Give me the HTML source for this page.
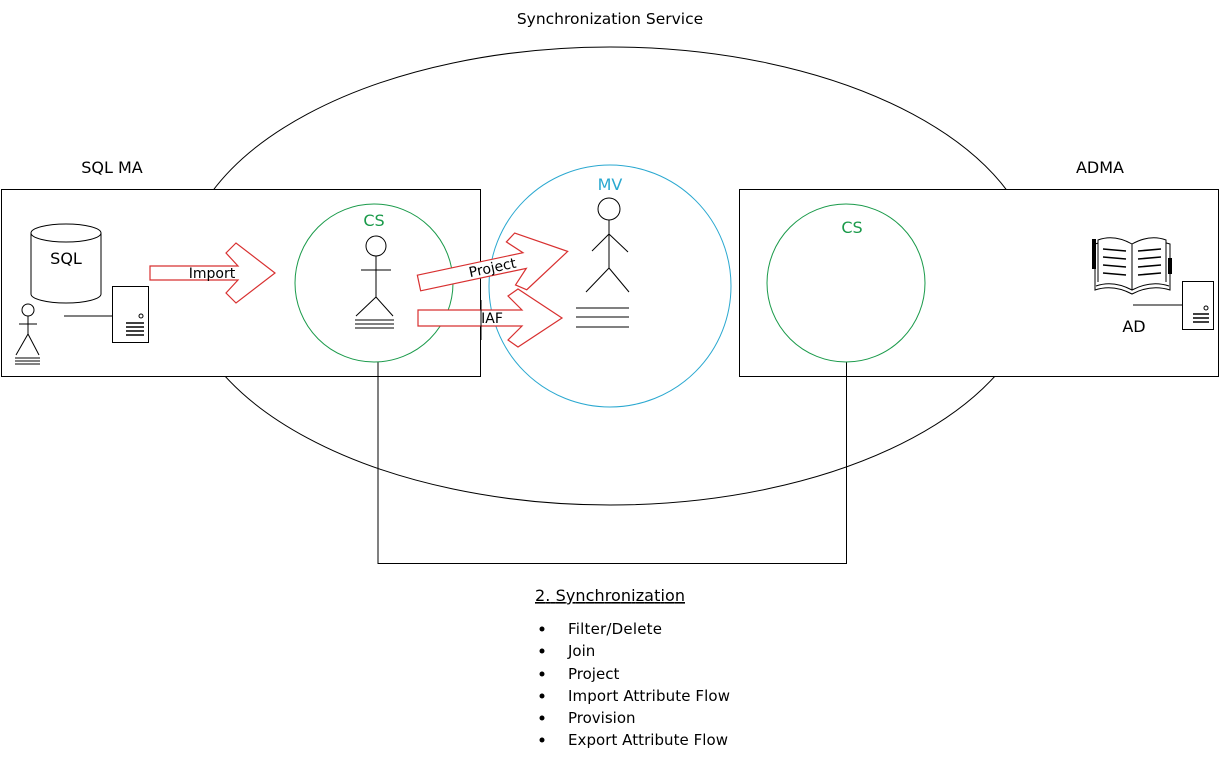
<!DOCTYPE html>
<html><head><style>body{margin:0;background:#fff}svg{display:block}text{font-family:"DejaVu Sans","Liberation Sans",sans-serif}</style></head><body>
<svg width="1220" height="761" viewBox="0 0 1220 761" xmlns="http://www.w3.org/2000/svg">
<rect width="1220" height="761" fill="#fff"/>
<text x="610" y="24" font-size="15.5" text-anchor="middle">Synchronization Service</text>
<ellipse cx="610" cy="276" rx="428" ry="229" fill="none" stroke="#000" stroke-width="1"/>
<rect x="1.5" y="189.5" width="479" height="187" fill="#fff" stroke="#000"/>
<rect x="739.5" y="189.5" width="479" height="187" fill="#fff" stroke="#000"/>
<text x="112" y="173" font-size="16" text-anchor="middle">SQL MA</text>
<text x="1100" y="173" font-size="16" text-anchor="middle">ADMA</text>
<polyline points="378,362 378,563.5 846.5,563.5 846.5,362" fill="none" stroke="#000"/>
<circle cx="610" cy="286" r="121" fill="#fff" stroke="#2aa8d0"/>
<text x="610" y="190" font-size="16" fill="#2aa8d0" text-anchor="middle">MV</text>
<circle cx="374" cy="283" r="79" fill="none" stroke="#1a9a4a"/>
<circle cx="846" cy="283" r="79" fill="none" stroke="#1a9a4a"/>
<text x="374" y="226" font-size="16" fill="#1a9a4a" text-anchor="middle">CS</text>
<text x="852" y="233" font-size="16" fill="#1a9a4a" text-anchor="middle">CS</text>
<path d="M31,233 L31,294 A35,9 0 0 0 101,294 L101,233" fill="#fff" stroke="#000"/>
<ellipse cx="66" cy="233" rx="35" ry="9" fill="#fff" stroke="#000"/>
<text x="66" y="264" font-size="16" text-anchor="middle">SQL</text>
<line x1="64" y1="316" x2="112" y2="316" stroke="#000"/>
<rect x="112.5" y="286.5" width="36" height="56" fill="#fff" stroke="#000"/>
<circle cx="141" cy="316" r="2" fill="none" stroke="#000"/>
<g stroke="#000" stroke-width="1.5"><line x1="126" y1="323" x2="144" y2="323"/><line x1="126" y1="327" x2="144" y2="327"/><line x1="126" y1="331" x2="144" y2="331"/><line x1="126" y1="335" x2="144" y2="335"/></g>
<g stroke="#000" fill="none"><circle cx="28" cy="310" r="6"/><line x1="28" y1="316" x2="28" y2="334"/><line x1="19" y1="324" x2="37" y2="324"/><line x1="28" y1="334" x2="16" y2="355"/><line x1="28" y1="334" x2="39" y2="355"/>
<line x1="15" y1="358" x2="40" y2="358"/><line x1="15" y1="361" x2="40" y2="361"/><line x1="15" y1="364" x2="40" y2="364"/></g>
<g stroke="#000" fill="none"><circle cx="376" cy="246" r="10"/><line x1="376" y1="256" x2="376" y2="297"/><line x1="361" y1="270" x2="391" y2="270"/><line x1="376" y1="297" x2="356" y2="316"/><line x1="376" y1="297" x2="393" y2="316"/>
<line x1="355" y1="320" x2="394" y2="320"/><line x1="355" y1="324" x2="394" y2="324"/><line x1="355" y1="328" x2="394" y2="328"/></g>
<g stroke="#000" fill="none"><circle cx="609" cy="209" r="11"/><line x1="609" y1="220" x2="609" y2="268"/><line x1="609" y1="234" x2="592" y2="251"/><line x1="609" y1="234" x2="628" y2="252"/><line x1="609" y1="268" x2="586" y2="292"/><line x1="609" y1="268" x2="629" y2="292"/>
<line x1="576" y1="308" x2="629" y2="308"/><line x1="576" y1="317" x2="629" y2="317"/><line x1="576" y1="327" x2="629" y2="327"/></g>
<polygon transform="translate(150,273)" points="0,-7 88,-7 76,-20 86,-30 125,0 86,30 76,20 88,7 0,7" fill="#fff" stroke="#d83030" stroke-width="1.2"/>
<text x="212" y="278" font-size="14" text-anchor="middle">Import</text>
<polygon transform="translate(418,318)" points="0,-8 104,-8 90,-22 100,-29 144,0 100,29 90,22 104,8 0,8" fill="#fff" stroke="#d83030" stroke-width="1.2"/>
<line x1="481" y1="300" x2="481" y2="340" stroke="#000"/>
<text x="492" y="323" font-size="14" text-anchor="middle">IAF</text>
<g transform="translate(419,283) rotate(-12)">
<polygon points="0,-8 108,-8 94,-22 104,-29 152,0 104,29 94,22 108,8 0,8" fill="#fff" stroke="#d83030" stroke-width="1.2"/>
<text x="75" y="5" font-size="14" text-anchor="middle">Project</text>
</g>
<g stroke="#000" fill="#fff">
<path d="M1095,290 Q1113,284 1132,294 Q1151,284 1170,290 L1170,244 Q1151,238 1132,248 Q1113,238 1095,244 Z"/>
<path d="M1096,286 Q1113,280 1132,290 Q1151,280 1169,286" fill="none"/>
<path d="M1098,282 L1098,240 Q1114,234 1132,244 Q1150,234 1166,240 L1166,282" />
<line x1="1132" y1="244" x2="1132" y2="290"/>
<g stroke-width="1.5" fill="none"><line x1="1103" y1="249" x2="1126" y2="251"/><line x1="1103" y1="257" x2="1126" y2="259"/><line x1="1103" y1="265" x2="1126" y2="267"/><line x1="1103" y1="273" x2="1126" y2="275"/>
<line x1="1138" y1="251" x2="1161" y2="249"/><line x1="1138" y1="259" x2="1161" y2="257"/><line x1="1138" y1="267" x2="1161" y2="265"/><line x1="1138" y1="275" x2="1161" y2="273"/></g>
</g>
<rect x="1092" y="239" width="4" height="30" fill="#000"/>
<rect x="1168" y="258" width="4" height="16" fill="#000"/>
<line x1="1133" y1="305" x2="1182" y2="305" stroke="#000"/>
<rect x="1182.5" y="281.5" width="31" height="48" fill="#fff" stroke="#000"/>
<circle cx="1206" cy="308" r="2" fill="none" stroke="#000"/>
<g stroke="#000" stroke-width="1.5"><line x1="1193" y1="314" x2="1209" y2="314"/><line x1="1193" y1="318" x2="1209" y2="318"/><line x1="1193" y1="322" x2="1209" y2="322"/></g>
<text x="1134" y="332" font-size="16" text-anchor="middle">AD</text>
<text x="535" y="601" font-size="16" text-decoration="underline" textLength="150">2. Synchronization</text>
<g font-size="15">
<text x="568" y="634" textLength="94">Filter/Delete</text>
<text x="568" y="656">Join</text>
<text x="568" y="679">Project</text>
<text x="568" y="701" textLength="162">Import Attribute Flow</text>
<text x="568" y="723">Provision</text>
<text x="568" y="745" textLength="160">Export Attribute Flow</text>
</g>
<g fill="#000"><circle cx="542" cy="629" r="2.5"/><circle cx="542" cy="651" r="2.5"/><circle cx="542" cy="674" r="2.5"/><circle cx="542" cy="696" r="2.5"/><circle cx="542" cy="718" r="2.5"/><circle cx="542" cy="740" r="2.5"/></g>
</svg>
</body></html>
